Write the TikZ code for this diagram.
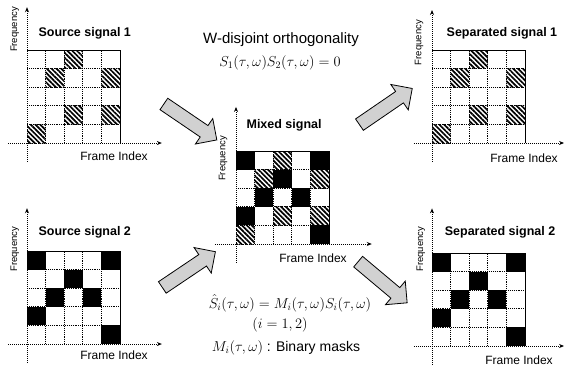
\documentclass[tikz,border=0pt]{standalone}
\usepackage{fontspec}
\setmainfont{Liberation Sans}
\usetikzlibrary{arrows.meta,patterns.meta,shapes.arrows}

\begin{document}
\begin{tikzpicture}[x=1pt,y=-1pt]

\tikzset{hatchcell/.style={pattern={Lines[angle=-45,distance=3.4pt,line width=1.7pt]}}}
\tikzset{blackcell/.style={fill=black}}
\tikzset{cellline/.style={densely dotted, line width=0.9pt}}
\tikzset{frameline/.style={line width=0.9pt}}
\tikzset{axisline/.style={densely dotted, line width=1pt, -{Stealth[length=5pt,width=4pt]}}}
\tikzset{paneltitle/.style={anchor=west, font=\bfseries\fontsize{12.5}{14}\selectfont}}
\tikzset{xlabel/.style={font=\fontsize{12}{14}\selectfont}}
\tikzset{ylabel/.style={rotate=90, font=\fontsize{9.5}{11}\selectfont}}
\tikzset{bigarrow/.style={single arrow, draw=black, fill=black!18, line width=0.8pt, inner sep=6.5pt, single arrow head extend=8.5pt, minimum height=64pt}}
\tikzset{mathtext/.style={font=\fontsize{14}{16}\selectfont}}

\useasboundingbox (0,0) rectangle (564,368);

% source signal 1
\begin{scope}[shift={(27,143)}, x=18.6pt, y=18.6pt]
\foreach \c/\r in {3/1,2/2,5/2,3/4,5/4,1/5}
  \fill[hatchcell] (\c-1,5-\r) rectangle (\c,6-\r);
\foreach \i in {1,...,4} {
  \draw[cellline] (\i,0) -- (\i,5);
  \draw[cellline] (0,\i) -- (5,\i);
}
\draw[frameline] (0,5) -- (5,5) -- (5,0);
\draw[axisline] (0,-1) -- (0,7.3);
\draw[axisline] (-1,0) -- (7.25,0);
\node[paneltitle] (src1) at (0.43,5.9) {Source signal 1};
\node[xlabel] (src1x) at (4.68,-0.7) {Frame Index};
\node[ylabel] (src1y) at (-0.65,6.1) {Frequency};
\end{scope}

% source signal 2
\begin{scope}[shift={(27,344)}, x=18.6pt, y=18.6pt]
\foreach \c/\r in {1/1,5/1,3/2,2/3,4/3,1/4,5/5}
  \fill[blackcell] (\c-1,5-\r) rectangle (\c,6-\r);
\foreach \i in {1,...,4} {
  \draw[cellline] (\i,0) -- (\i,5);
  \draw[cellline] (0,\i) -- (5,\i);
}
\draw[frameline] (0,5) -- (5,5) -- (5,0);
\draw[axisline] (0,-1) -- (0,7.3);
\draw[axisline] (-1,0) -- (7.25,0);
\node[paneltitle] (src2) at (0.43,6.0) {Source signal 2};
\node[xlabel] (src2x) at (4.68,-0.6) {Frame Index};
\node[ylabel] (src2y) at (-0.65,5.1) {Frequency};
\end{scope}

% mixed signal
\begin{scope}[shift={(236,244)}, x=18.6pt, y=18.6pt]
\foreach \c/\r in {3/1,2/2,5/2,3/4,5/4,1/5}
  \fill[hatchcell] (\c-1,5-\r) rectangle (\c,6-\r);
\foreach \c/\r in {1/1,5/1,3/2,2/3,4/3,1/4,5/5}
  \fill[blackcell] (\c-1,5-\r) rectangle (\c,6-\r);
\foreach \i in {1,...,4} {
  \draw[cellline] (\i,0) -- (\i,5);
  \draw[cellline] (0,\i) -- (5,\i);
}
\draw[frameline] (0,5) -- (5,5) -- (5,0);
\draw[axisline] (0,-1) -- (0,7.37);
\draw[axisline] (-1.13,0) -- (7.3,0);
\node[paneltitle] (mix) at (0.38,6.4) {Mixed signal};
\node[xlabel] (mixx) at (4.14,-0.75) {Frame Index};
\node[ylabel] (mixy) at (-0.7,4.6) {Frequency};
\end{scope}

% separated signal 1
\begin{scope}[shift={(432,143)}, x=18.6pt, y=18.6pt]
\foreach \c/\r in {3/1,2/2,5/2,3/4,5/4,1/5}
  \fill[hatchcell] (\c-1,5-\r) rectangle (\c,6-\r);
\foreach \i in {1,...,4} {
  \draw[cellline] (\i,0) -- (\i,5);
  \draw[cellline] (0,\i) -- (5,\i);
}
\draw[frameline] (0,5) -- (5,5) -- (5,0);
\draw[axisline] (0,-1) -- (0,7.15);
\draw[axisline] (-0.97,0) -- (7.1,0);
\node[paneltitle] (sep1) at (0.6,5.9) {Separated signal 1};
\node[xlabel] (sep1x) at (4.95,-0.8) {Frame Index};
\node[ylabel] (sep1y) at (-0.7,5.4) {Frequency};
\end{scope}

% separated signal 2
\begin{scope}[shift={(432,346)}, x=18.6pt, y=18.6pt]
\foreach \c/\r in {1/1,5/1,3/2,2/3,4/3,1/4,5/5}
  \fill[blackcell] (\c-1,5-\r) rectangle (\c,6-\r);
\foreach \i in {1,...,4} {
  \draw[cellline] (\i,0) -- (\i,5);
  \draw[cellline] (0,\i) -- (5,\i);
}
\draw[frameline] (0,5) -- (5,5) -- (5,0);
\draw[axisline] (0,-1) -- (0,7.4);
\draw[axisline] (-0.97,0) -- (7.1,0);
\node[paneltitle] (sep2) at (0.5,6.1) {Separated signal 2};
\node[xlabel] (sep2x) at (4.68,-0.75) {Frame Index};
\node[ylabel] (sep2y) at (-0.6,5.2) {Frequency};
\end{scope}

% block arrows
\coordinate (a1s) at (161,102);
\coordinate (a1e) at (214,138);
\coordinate (a2s) at (160,289);
\coordinate (a2e) at (212,254);
\coordinate (a3s) at (356,127);
\coordinate (a3e) at (410,90);
\coordinate (a4s) at (355,259);
\coordinate (a4e) at (405,301);
\path (a1s) -- (a1e) node[midway, sloped, bigarrow] (arr1) {};
\path (a2s) -- (a2e) node[midway, sloped, bigarrow] (arr2) {};
\path (a3s) -- (a3e) node[midway, sloped, bigarrow] (arr3) {};
\path (a4s) -- (a4e) node[midway, sloped, bigarrow] (arr4) {};

% texts
\node[font=\fontsize{15}{17}\selectfont] (wdo) at (281,40) {W-disjoint orthogonality};
\node[mathtext] (wdoeq) at (280,63) {$S_1(\tau,\omega)S_2(\tau,\omega)=0$};
\node[mathtext] (maskeq) at (290,303) {$\hat{S}_i(\tau,\omega)=M_i(\tau,\omega)S_i(\tau,\omega)$};
\node[mathtext] (idx) at (280,325) {$(i=1,2)$};
\node[mathtext] (mask) at (286,348) {$M_i(\tau,\omega)$ : Binary masks};

\end{tikzpicture}
\end{document}
